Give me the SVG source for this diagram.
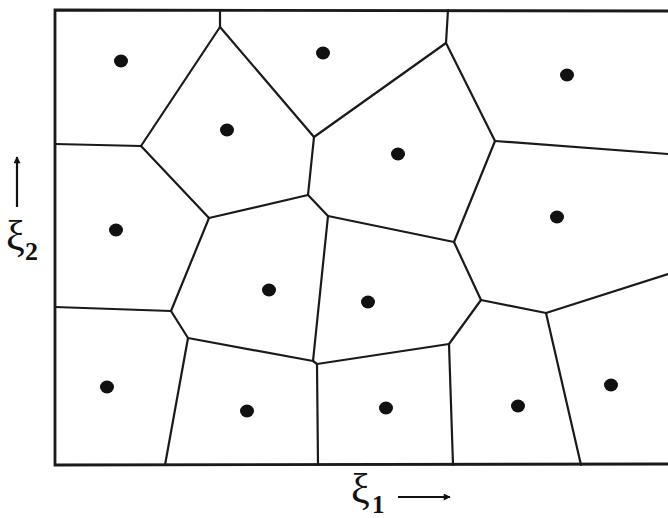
<svg xmlns="http://www.w3.org/2000/svg" width="668" height="518" viewBox="0 0 668 518">
<style>
.frame{fill:none;stroke:#1a1a1a;stroke-width:2.8;stroke-linecap:square}
.edge{fill:none;stroke:#1a1a1a;stroke-width:2.2;stroke-linejoin:round;stroke-linecap:round}
.seed{fill:#111}
.lbl{font-family:"Liberation Serif","DejaVu Serif",serif;fill:#111}
.ax{stroke:#111;stroke-width:2.2;fill:none}
</style>
<defs>
<marker id="ah" viewBox="0 0 10 10" refX="9" refY="5" markerWidth="9" markerHeight="7" markerUnits="userSpaceOnUse" orient="auto">
<path d="M0,0 L10,5 L0,10 z" fill="#111"/>
</marker>
</defs>
<rect width="668" height="518" fill="#ffffff"/>
<g id="frame">
<path class="frame" d="M668,11 L55,10 L55,465 L668,464"/>
</g>
<g id="connectors">
<path class="edge" d="M220,10 L220,27"/>
<path class="edge" d="M220,27 L141,146"/>
<path class="edge" d="M220,27 L314,137"/>
<path class="edge" d="M55,144 L141,146"/>
<path class="edge" d="M141,146 L209,218"/>
<path class="edge" d="M209,218 L308,195"/>
<path class="edge" d="M308,195 L314,137"/>
<path class="edge" d="M314,137 L446,43"/>
<path class="edge" d="M448,10 L446,43"/>
<path class="edge" d="M446,43 L495,141"/>
<path class="edge" d="M495,141 L668,154"/>
<path class="edge" d="M495,141 L454,242"/>
<path class="edge" d="M308,195 L328,216"/>
<path class="edge" d="M328,216 L454,242"/>
<path class="edge" d="M328,216 L313,361"/>
<path class="edge" d="M209,218 L171,311"/>
<path class="edge" d="M55,307 L171,311"/>
<path class="edge" d="M171,311 L188,338"/>
<path class="edge" d="M188,338 L165,465"/>
<path class="edge" d="M188,338 L313,361"/>
<path class="edge" d="M313,361 L317,364"/>
<path class="edge" d="M317,364 L318,465"/>
<path class="edge" d="M317,364 L449,344"/>
<path class="edge" d="M449,344 L453,465"/>
<path class="edge" d="M449,344 L481,300"/>
<path class="edge" d="M454,242 L481,300"/>
<path class="edge" d="M481,300 L546,313"/>
<path class="edge" d="M546,313 L668,274"/>
<path class="edge" d="M546,313 L581,465"/>
</g>
<g id="seed1"><ellipse class="seed" cx="121" cy="61" rx="7" ry="6.5"/></g>
<g id="seed2"><ellipse class="seed" cx="227" cy="130" rx="7" ry="6.5"/></g>
<g id="seed3"><ellipse class="seed" cx="323" cy="53" rx="7" ry="6.5"/></g>
<g id="seed4"><ellipse class="seed" cx="398" cy="154" rx="7" ry="6.5"/></g>
<g id="seed5"><ellipse class="seed" cx="567" cy="75" rx="7" ry="6.5"/></g>
<g id="seed6"><ellipse class="seed" cx="557" cy="217" rx="7" ry="6.5"/></g>
<g id="seed7"><ellipse class="seed" cx="116" cy="230" rx="7" ry="6.5"/></g>
<g id="seed8"><ellipse class="seed" cx="269" cy="290" rx="7" ry="6.5"/></g>
<g id="seed9"><ellipse class="seed" cx="368" cy="302" rx="7" ry="6.5"/></g>
<g id="seed10"><ellipse class="seed" cx="107" cy="387" rx="7" ry="6.5"/></g>
<g id="seed11"><ellipse class="seed" cx="247" cy="411" rx="7" ry="6.5"/></g>
<g id="seed12"><ellipse class="seed" cx="386" cy="408" rx="7" ry="6.5"/></g>
<g id="seed13"><ellipse class="seed" cx="518" cy="406" rx="7" ry="6.5"/></g>
<g id="seed14"><ellipse class="seed" cx="611" cy="385" rx="7" ry="6.5"/></g>
<g id="axis-xi2">
<line class="ax" x1="17" y1="207" x2="17" y2="157" marker-end="url(#ah)"/>
<text class="lbl" x="6" y="250" font-size="42">ξ</text>
<text class="lbl" x="25" y="260" font-size="26" font-weight="bold">2</text>
</g>
<g id="axis-xi1">
<line class="ax" x1="398" y1="497" x2="450" y2="497" marker-end="url(#ah)"/>
<text class="lbl" x="351" y="503" font-size="42">ξ</text>
<text class="lbl" x="372" y="513" font-size="25" font-weight="bold">1</text>
</g>
</svg>
